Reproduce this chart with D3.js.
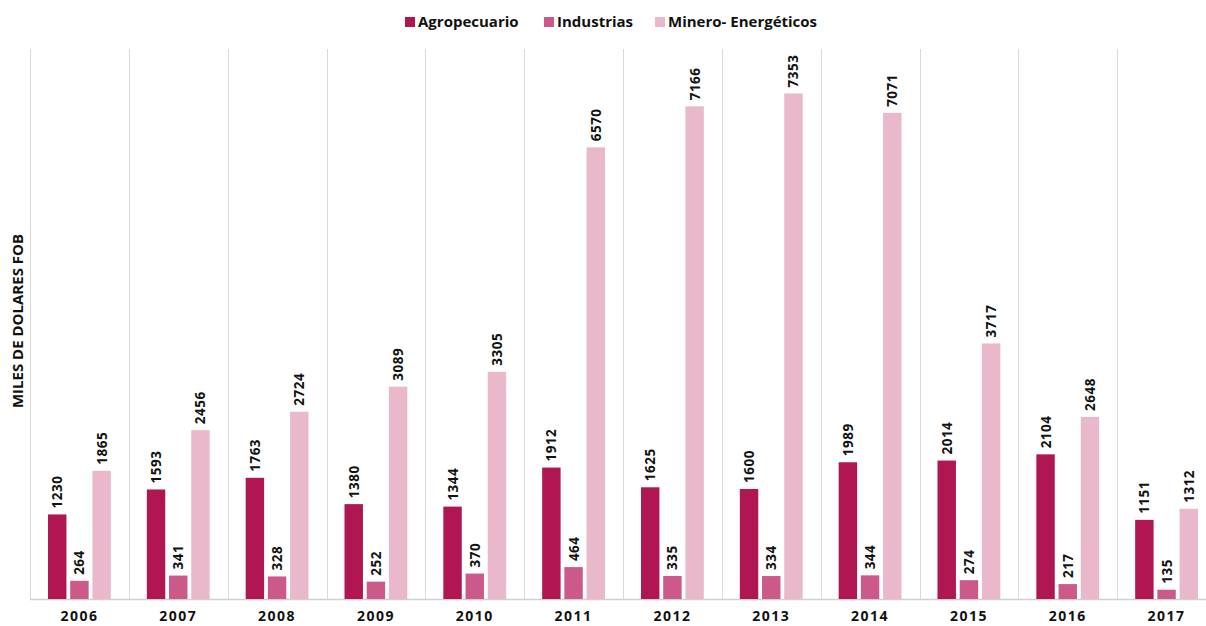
<!DOCTYPE html>
<html><head><meta charset="utf-8">
<script src="https://cdn.jsdelivr.net/npm/d3@7"></script>
<style>body{margin:0;background:#fff}svg{display:block;font-family:"Open Sans","Noto Sans",sans-serif}</style>
</head><body><svg id="c" width="1206" height="626"></svg>
<script>
const years = ["2006","2007","2008","2009","2010","2011","2012","2013","2014","2015","2016","2017"];
const seriesNames = ["Agropecuario","Industrias","Minero- Energéticos"];
const agro = [1230,1593,1763,1380,1344,1912,1625,1600,1989,2014,2104,1151];
const industrias = [264,341,328,252,370,464,335,334,344,274,217,135];
const minero = [1865,2456,2724,3089,3305,6570,7166,7353,7071,3717,2648,1312];
const colors = ["#B01652","#CB5A8A","#E9B9CB"];
const yTitle = "MILES DE DOLARES FOB";

(function(){
const svg = d3.select("#c");
const pLeft = 30, pRight = 1216, pTop = 49, pBottom = 599;
const x = d3.scaleBand().domain(years).range([pLeft, pRight]).padding(0);
const inner = d3.scaleBand().domain(seriesNames).range([18, x.bandwidth()-18]).paddingInner(0.17);
const y = d3.scaleLinear().domain([0, 8000]).range([pBottom, pTop]);
const data = [agro, industrias, minero];

svg.append("g").selectAll("line").data(years.concat(["end"])).join("line")
  .attr("x1", (d,i)=> Math.round(pLeft + i*x.bandwidth()) + 0.5).attr("x2", (d,i)=> Math.round(pLeft + i*x.bandwidth()) + 0.5)
  .attr("y1", pTop).attr("y2", pBottom)
  .attr("stroke", "#d9d9d9").attr("stroke-width", 1);

svg.append("line").attr("x1", pLeft).attr("x2", pRight).attr("y1", pBottom+0.5).attr("y2", pBottom+0.5)
  .attr("stroke", "#d0d0d0").attr("stroke-width", 1.5);

seriesNames.forEach((s, si) => {
  const g = svg.append("g");
  g.selectAll("rect").data(data[si]).join("rect")
    .attr("x", (d,i)=> x(years[i]) + inner(s))
    .attr("y", d => y(d))
    .attr("width", inner.bandwidth())
    .attr("height", d => pBottom - y(d))
    .attr("fill", colors[si]);
  g.selectAll("text").data(data[si]).join("text")
    .attr("transform", (d,i)=> `translate(${x(years[i]) + inner(s) + inner.bandwidth()/2 + 5},${y(d) - 6}) rotate(-90)`)
    .attr("font-size", 13.5).attr("font-weight", 700).attr("fill", "#111")
    .attr("letter-spacing", 0.5)
    .text(d => d);
});

const xAxis = svg.append("g").attr("transform", `translate(0,${pBottom})`)
  .call(d3.axisBottom(x).tickSize(0).tickPadding(12));
xAxis.select(".domain").remove();
xAxis.selectAll("text").attr("font-size", 14).attr("font-weight", 700).attr("fill", "#111")
  .attr("letter-spacing", 1.5).attr("font-family", "'Open Sans','Noto Sans',sans-serif");

svg.append("text").attr("transform", `translate(23,321) rotate(-90)`)
  .attr("text-anchor", "middle").attr("font-size", 15).attr("font-weight", 700).attr("fill", "#111")
  .text(yTitle);

const lxs = [405, 544, 655];
seriesNames.forEach((s, i) => {
  const g = svg.append("g").attr("transform", `translate(${lxs[i]},22)`);
  g.append("rect").attr("x", 0).attr("y", -5).attr("width", 10).attr("height", 10).attr("fill", colors[i]);
  g.append("text").attr("x", 13).attr("y", 5).attr("font-size", 15).attr("font-weight", 700).attr("fill", "#111").text(s);
});
})();
</script></body></html>
